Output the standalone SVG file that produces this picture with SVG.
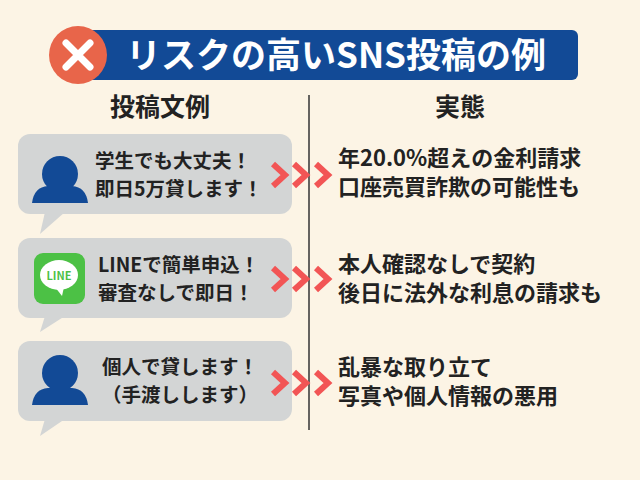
<svg xmlns="http://www.w3.org/2000/svg" width="640" height="480" viewBox="0 0 640 480">
<style>
text{font-family:"Noto Sans CJK JP","Noto Sans",sans-serif;font-weight:bold;fill:#222}
.b{fill:#d3d5d5}
.p{fill:#124a96}
.ch{fill:none;stroke:#f25555;stroke-width:6}
.t{font-size:19.5px}
.r{font-size:22px}
</style>
<rect width="640" height="480" fill="#fcf4e5"/>
<g id="title">
<rect x="80" y="30" width="498" height="50" rx="6" fill="#124a96"/>
<circle cx="78" cy="55" r="29" fill="#e8654a"/>
<path d="M66 43L90 67M90 43L66 67" stroke="#fff" stroke-width="7" stroke-linecap="round"/>
<text x="336" y="68" text-anchor="middle" font-size="35" style="fill:#fff">リスクの高いSNS投稿の例</text>
</g>
<g id="headers">
<text x="160" y="116" text-anchor="middle" font-size="25">投稿文例</text>
<text x="460" y="116" text-anchor="middle" font-size="25">実態</text>
<line x1="309" y1="95" x2="309" y2="430" stroke="#333" stroke-width="1.5"/>
</g>
<g id="post1">
<rect class="b" x="18" y="134" width="274" height="80" rx="12"/>
<path class="b" d="M45 212L40 234L65 212Z"/>
<circle class="p" cx="60" cy="174" r="18"/>
<path class="p" d="M32 203Q34 187 48 186L72 186Q86 187 88 203Z"/>
<text class="t" x="95" y="168">学生でも大丈夫！</text>
<text class="t" x="95" y="196">即日5万貸します！</text>
</g>
<g id="post2">
<rect class="b" x="18" y="238" width="274" height="80" rx="12"/>
<path class="b" d="M45 316L40 332L65 316Z"/>
<rect x="34" y="253" width="51" height="51" rx="9" fill="#4cc145"/>
<ellipse cx="59" cy="275" rx="19" ry="15" fill="#fff"/>
<path d="M55 287L62 296L64 287Z" fill="#fff"/>
<text x="59" y="280" text-anchor="middle" font-size="11" style="fill:#4cc145">LINE</text>
<text class="t" x="98" y="272">LINEで簡単申込！</text>
<text class="t" x="98" y="300">審査なしで即日！</text>
</g>
<g id="post3">
<rect class="b" x="18" y="341" width="274" height="80" rx="12"/>
<path class="b" d="M45 419L40 436L65 419Z"/>
<circle class="p" cx="60" cy="373" r="18"/>
<path class="p" d="M32 405Q34 389 48 388L72 388Q86 389 88 405Z"/>
<text class="t" x="180" y="374" text-anchor="middle">個人で貸します！</text>
<text class="t" x="180" y="402" text-anchor="middle">（手渡しします）</text>
</g>
<g id="connectors">
<path class="ch" d="M273 164L285 175L273 186M294 164L306 175L294 186M316 164L328 175L316 186"/>
<path class="ch" d="M273 268L285 279L273 290M294 268L306 279L294 290M316 268L328 279L316 290"/>
<path class="ch" d="M273 372L285 383L273 394M294 372L306 383L294 394M316 372L328 383L316 394"/>
</g>
<g id="facts">
<text class="r" x="338" y="166">年20.0%超えの金利請求</text>
<text class="r" x="338" y="195">口座売買詐欺の可能性も</text>
<text class="r" x="338" y="272">本人確認なしで契約</text>
<text class="r" x="338" y="301">後日に法外な利息の請求も</text>
<text class="r" x="338" y="375">乱暴な取り立て</text>
<text class="r" x="338" y="404">写真や個人情報の悪用</text>
</g>
</svg>
